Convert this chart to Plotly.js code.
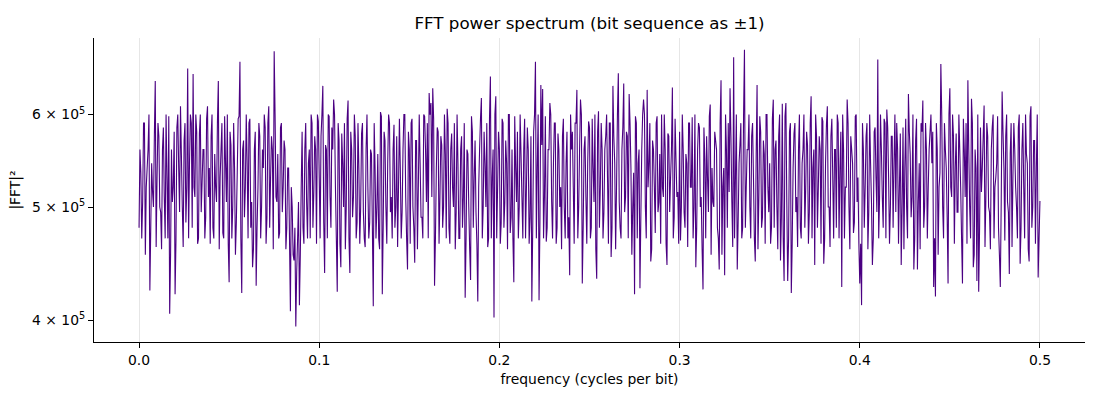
<!DOCTYPE html>
<html>
<head>
<meta charset="utf-8">
<script src="https://cdn.plot.ly/plotly-3.0.1.min.js"></script>
<style>
  body { margin: 0; background: #fff; }
  #chart { width: 1100px; height: 400px; }
</style>
</head>
<body>
<div id="chart"></div>
<script>

// |FFT|^2 in thousands at the whole bins k*0.001 cycles/bit (k = 0..500)
var power_k = [
    480, 535, 505, 590, 520, 560, 424, 545, 500, 641,
    530, 575, 495, 560, 510, 600, 470, 405, 560, 520,
    421, 585, 540, 610, 500, 570, 485, 657, 545, 590,
    650, 510, 580, 470, 600, 525, 560, 490, 610, 540,
    575, 480, 555, 505, 641, 530, 590, 470, 545, 600,
    431, 565, 500, 540, 485, 595, 666, 422, 570, 520,
    545, 590, 480, 444, 560, 428, 520, 575, 500, 540,
    585, 490, 610, 530, 560, 680, 510, 555, 475, 590,
    520, 560, 480, 540, 407, 500, 450, 395, 470, 412,
    520, 480, 560, 505, 545, 470, 590, 515, 560, 600,
    530, 575, 635, 439, 560, 600, 510, 585, 618, 520,
    423, 570, 444, 545, 590, 500, 617, 439, 560, 510,
    575, 485, 540, 500, 590, 470, 560, 520, 485, 555,
    411, 540, 500, 470, 603, 421, 580, 500, 545, 590,
    510, 560, 480, 575, 520, 540, 495, 600, 510, 442,
    560, 590, 500, 448, 570, 520, 545, 490, 600, 560,
    590, 626, 614, 632, 428, 540, 580, 510, 565, 500,
    555, 607, 480, 560, 520, 590, 495, 545, 470, 575,
    510, 418, 560, 500, 433, 580, 530, 495, 415, 560,
    620, 500, 545, 590, 470, 647, 530, 402, 622, 520,
    560, 485, 590, 505, 545, 600, 475, 560, 431, 540,
    580, 500, 555, 470, 595, 520, 560, 490, 415, 580,
    666, 540, 416, 636, 631, 510, 467, 560, 614, 505,
    545, 590, 480, 560, 520, 575, 500, 545, 470, 437,
    560, 520, 590, 630, 500, 618, 430, 560, 510, 545,
    585, 480, 540, 600, 434, 604, 520, 560, 495, 575,
    530, 590, 453, 635, 545, 520, 651, 480, 560, 638,
    510, 575, 625, 540, 500, 421, 590, 545, 426, 560,
    618, 500, 630, 545, 449, 570, 520, 590, 495, 555,
    600, 510, 560, 446, 575, 530, 633, 490, 550, 515,
    580, 500, 560, 480, 545, 590, 520, 597, 500, 444,
    560, 585, 510, 425, 550, 575, 495, 612, 540, 500,
    570, 480, 442, 642, 520, 437, 560, 590, 632, 505,
    672, 530, 442, 545, 590, 480, 682, 520, 560, 500,
    575, 530, 449, 636, 510, 580, 490, 555, 600, 520,
    545, 480, 618, 560, 500, 575, 450, 613, 432, 614,
    432, 580, 422, 540, 590, 510, 560, 480, 545, 600,
    520, 565, 495, 622, 540, 446, 575, 520, 560, 597,
    447, 545, 610, 500, 575, 530, 560, 480, 590, 540,
    427, 560, 520, 618, 500, 575, 545, 485, 600, 530,
    430, 412, 560, 520, 590, 495, 545, 446, 580, 530,
    669, 510, 560, 480, 590, 606, 530, 500, 575, 545,
    495, 560, 520, 446, 585, 540, 500, 625, 555, 510,
    442, 570, 442, 545, 590, 617, 500, 560, 520, 580,
    545, 427, 419, 560, 520, 663, 500, 590, 540, 430,
    632, 510, 575, 540, 495, 600, 520, 430, 560, 590,
    642, 500, 619, 444, 560, 432, 423, 585, 540, 611,
    510, 575, 495, 560, 600, 520, 545, 480, 427, 628,
    540, 575, 505, 438, 590, 530, 560, 500, 585, 447,
    560, 520, 600, 545, 449, 610, 500, 570, 540, 435,
    506
];

// |FFT|^2 in thousands at the half bins (k+0.5)*0.001 cycles/bit (k = 0..499)
var power_k_half = [
    560, 470, 590, 455, 540, 600, 480, 515, 575, 462,
    590, 500, 460, 585, 470, 530, 598, 455, 505, 580,
    468, 600, 495, 555, 462, 590, 520, 470, 600, 480,
    520, 600, 465, 578, 495, 560, 470, 595, 510, 465,
    600, 470, 520, 590, 460, 560, 475, 598, 505, 465,
    580, 470, 590, 455, 535, 598, 470, 560, 490, 600,
    470, 595, 505, 460, 580, 480, 590, 470, 560, 600,
    465, 590, 480, 575, 460, 600, 505, 470, 585, 495,
    570, 460, 540, 470, 520, 455, 480, 440, 505, 455,
    580, 465, 590, 470, 560, 600, 480, 575, 465, 592,
    470, 600, 485, 565, 470, 598, 480, 560, 600, 470,
    590, 465, 578, 500, 460, 595, 470, 580, 490, 600,
    470, 590, 465, 578, 495, 462, 600, 470, 560, 480,
    590, 470, 555, 460, 598, 480, 570, 465, 600, 495,
    470, 588, 500, 462, 595, 470, 560, 600, 470, 580,
    465, 595, 480, 570, 460, 600, 490, 470, 598, 505,
    470, 600, 510, 595, 470, 585, 465, 575, 480, 600,
    470, 590, 465, 578, 500, 460, 600, 470, 560, 480,
    590, 470, 555, 460, 598, 480, 570, 465, 520, 595,
    470, 580, 500, 462, 595, 470, 560, 600, 470, 580,
    465, 595, 480, 570, 460, 600, 490, 470, 598, 505,
    470, 600, 510, 560, 470, 585, 465, 575, 480, 600,
    470, 600, 485, 565, 470, 598, 480, 560, 600, 470,
    590, 465, 578, 500, 460, 595, 470, 580, 490, 600,
    580, 465, 590, 470, 560, 600, 480, 575, 465, 592,
    470, 595, 505, 460, 580, 480, 590, 470, 560, 600,
    465, 590, 480, 575, 460, 600, 505, 470, 585, 495,
    580, 470, 590, 455, 535, 598, 470, 560, 490, 600,
    600, 470, 520, 590, 460, 560, 475, 598, 505, 465,
    520, 600, 465, 578, 495, 560, 470, 595, 510, 465,
    468, 600, 495, 555, 462, 590, 520, 470, 600, 480,
    590, 500, 460, 585, 470, 530, 598, 455, 505, 580,
    560, 470, 590, 455, 540, 600, 480, 515, 575, 462,
    470, 600, 485, 565, 470, 598, 480, 560, 600, 470,
    590, 470, 555, 460, 598, 480, 570, 465, 600, 495,
    465, 595, 480, 570, 460, 600, 490, 470, 598, 505,
    470, 590, 465, 578, 495, 462, 600, 470, 560, 480,
    580, 465, 590, 470, 560, 600, 480, 575, 465, 592,
    470, 588, 500, 462, 595, 470, 560, 600, 470, 580,
    600, 470, 520, 590, 460, 560, 475, 598, 505, 465,
    465, 590, 480, 575, 460, 600, 505, 470, 585, 495,
    470, 600, 510, 595, 470, 585, 465, 575, 480, 600,
    590, 465, 578, 500, 460, 595, 470, 580, 490, 600,
    470, 595, 505, 460, 580, 480, 590, 470, 560, 600,
    580, 470, 590, 455, 535, 598, 470, 560, 490, 600,
    520, 600, 465, 578, 495, 560, 470, 595, 510, 465,
    560, 470, 590, 455, 540, 600, 480, 515, 575, 462,
    590, 500, 460, 585, 470, 530, 598, 455, 505, 580,
    468, 600, 495, 555, 462, 590, 520, 470, 600, 480,
    590, 470, 555, 460, 598, 480, 570, 465, 600, 470
];

var bin_step = 0.001;

var x_tick_vals = [0.0, 0.1, 0.2, 0.3, 0.4, 0.5];
var x_tick_text = ['0.0', '0.1', '0.2', '0.3', '0.4', '0.5'];
var y_tick_vals = [4e5, 5e5, 6e5];
var y_tick_text = ['4 \u00d7 10<sup>5</sup>', '5 \u00d7 10<sup>5</sup>', '6 \u00d7 10<sup>5</sup>'];


function build_spectrum()
{
    let freq = [];
    let power = [];
    for (let k = 0; k < power_k.length; ++k)
    {
        freq.push(k * bin_step);
        power.push(power_k[k] * 1000);
        if (k < power_k_half.length)
        {
            freq.push((k + 0.5) * bin_step);
            power.push(power_k_half[k] * 1000);
        }
    }
    return {freq, power};
}


window.onload = () =>
{
    let s = build_spectrum();
    let font = {family: 'DejaVu Sans, sans-serif', size: 13.9, color: '#000'};

    let trace = {
        x: s.freq,
        y: s.power,
        type: 'scatter',
        mode: 'lines',
        line: {color: '#4b0082', width: 1.1, simplify: false},
        hoverinfo: 'skip'
    };

    let layout = {
        width: 1100,
        height: 400,
        margin: {l: 94, r: 15, t: 38, b: 58},
        paper_bgcolor: '#fff',
        plot_bgcolor: '#fff',
        font: font,
        showlegend: false,
        title: {
            text: 'FFT power spectrum (bit sequence as \u00b11)',
            font: {family: 'DejaVu Sans, sans-serif', size: 16.7, color: '#000'},
            x: 0.5, xref: 'paper', xanchor: 'center',
            y: 1 - 23 / 400, yanchor: 'middle'
        },
        xaxis: {
            range: [-0.025, 0.525],
            tickvals: x_tick_vals,
            ticktext: x_tick_text,
            ticks: 'outside', ticklen: 5, tickwidth: 1, tickcolor: '#000',
            showline: true, linecolor: '#000', linewidth: 1, mirror: false,
            showgrid: true, gridcolor: '#e6e6e6', gridwidth: 1,
            zeroline: false,
            tickfont: font,
            title: {text: 'frequency (cycles per bit)', font: font, standoff: 7}
        },
        yaxis: {
            type: 'log',
            range: [5.5833, 5.8438],
            tickvals: y_tick_vals,
            ticktext: y_tick_text,
            ticks: 'outside', ticklen: 5, tickwidth: 1, tickcolor: '#000',
            showline: true, linecolor: '#000', linewidth: 1, mirror: false,
            showgrid: false,
            zeroline: false,
            tickfont: font,
            title: {text: '|FFT|\u00b2', font: font, standoff: 8}
        }
    };

    Plotly.newPlot('chart', [trace], layout, {staticPlot: true, displayModeBar: false});
};
</script>
</body>
</html>
